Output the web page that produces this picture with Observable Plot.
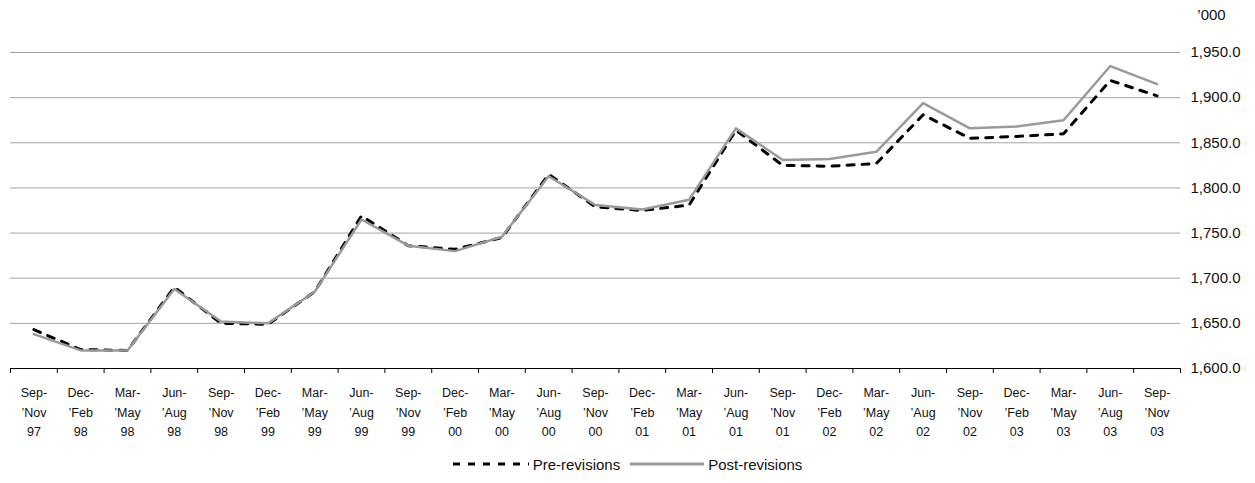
<!DOCTYPE html>
<html>
<head>
<meta charset="utf-8">
<script src="https://cdn.jsdelivr.net/npm/d3@7"></script>
<script src="https://cdn.jsdelivr.net/npm/@observablehq/plot@0.6"></script>
<style>
  body { margin: 0; background: #fff; font-family: "Liberation Sans", Arial, sans-serif; }
  #legend { display: flex; justify-content: center; align-items: center; font-size: 15px; color: #111; height: 28px; gap: 10px; }
  #legend .item { display: flex; align-items: center; gap: 4px; }
</style>
</head>
<body>
<div id="chart"></div>
<div id="legend"></div>
<script>
const categories = [
  "Sep-\n’Nov\n97", "Dec-\n’Feb\n98", "Mar-\n’May\n98", "Jun-\n’Aug\n98",
  "Sep-\n’Nov\n98", "Dec-\n’Feb\n99", "Mar-\n’May\n99", "Jun-\n’Aug\n99",
  "Sep-\n’Nov\n99", "Dec-\n’Feb\n00", "Mar-\n’May\n00", "Jun-\n’Aug\n00",
  "Sep-\n’Nov\n00", "Dec-\n’Feb\n01", "Mar-\n’May\n01", "Jun-\n’Aug\n01",
  "Sep-\n’Nov\n01", "Dec-\n’Feb\n02", "Mar-\n’May\n02", "Jun-\n’Aug\n02",
  "Sep-\n’Nov\n02", "Dec-\n’Feb\n03", "Mar-\n’May\n03", "Jun-\n’Aug\n03",
  "Sep-\n’Nov\n03"
];
const preRevisions = [1643, 1621, 1620, 1690, 1650, 1649, 1685, 1769, 1736, 1732, 1745, 1815, 1779, 1775, 1781, 1864, 1825, 1824, 1827, 1881, 1855, 1857, 1860, 1919, 1902];
const postRevisions = [1638, 1620, 1620, 1688, 1652, 1650, 1685, 1765, 1736, 1730, 1746, 1813, 1781, 1776, 1787, 1866, 1831, 1832, 1840, 1894, 1866, 1868, 1875, 1935, 1915];
const yTicks = [1600, 1650, 1700, 1750, 1800, 1850, 1900, 1950];
const unitLabel = "’000";
const seriesNames = ["Pre-revisions", "Post-revisions"];

const idx = categories.map((_, i) => i);
const boundaries = [...idx.map(i => i - 0.5), categories.length - 0.5];
const preData = idx.map(i => ({i, v: preRevisions[i]}));
const postData = idx.map(i => ({i, v: postRevisions[i]}));

const chart = Plot.plot({
  width: 1255,
  height: 450,
  marginLeft: 10,
  marginRight: 75,
  marginTop: 52,
  marginBottom: 82,
  style: { fontFamily: "Liberation Sans, Arial, sans-serif", fontSize: "12.5px", color: "#111", background: "white" },
  x: { type: "linear", domain: [-0.5, categories.length - 0.5], label: null },
  y: { domain: [1600, 1950], label: null },
  marks: [
    Plot.gridY(yTicks.slice(1), { stroke: "#a3a3a3", strokeOpacity: 1, strokeWidth: 1 }),
    Plot.ruleY([1600], { stroke: "#000", strokeWidth: 1 }),
    Plot.axisX(boundaries, { tickSize: 5, tickFormat: () => "", stroke: "#000", label: null }),
    Plot.axisX(idx, { tickSize: 0, tickPadding: 15, tickFormat: i => categories[i], lineHeight: 1.55, fontSize: 12.5, fill: "#111", label: null }),
    Plot.axisY(yTicks, { anchor: "right", tickSize: 0, tickPadding: 10, tickFormat: d3.format(",.1f"), fontSize: 15, fill: "#111", label: null }),
    Plot.text([unitLabel], { text: d => d, frameAnchor: "top-right", dx: 31, dy: -37, textAnchor: "middle", lineAnchor: "middle", fontSize: 15, fill: "#111" }),
    Plot.line(preData, { x: "i", y: "v", stroke: "#000", strokeWidth: 3, strokeDasharray: "7,8" }),
    Plot.line(postData, { x: "i", y: "v", stroke: "#9a9a9a", strokeWidth: 2.5 })
  ]
});
document.getElementById("chart").append(chart);

const legend = document.getElementById("legend");
const swatches = [
  `<svg width="76" height="6"><line x1="0" y1="3" x2="76" y2="3" stroke="#000" stroke-width="3" stroke-dasharray="7,8"/></svg>`,
  `<svg width="74" height="6"><line x1="0" y1="3" x2="74" y2="3" stroke="#9a9a9a" stroke-width="3"/></svg>`
];
seriesNames.forEach((name, k) => {
  const item = document.createElement("span");
  item.className = "item";
  item.innerHTML = swatches[k] + `<span>${name}</span>`;
  legend.append(item);
});
</script>
</body>
</html>
